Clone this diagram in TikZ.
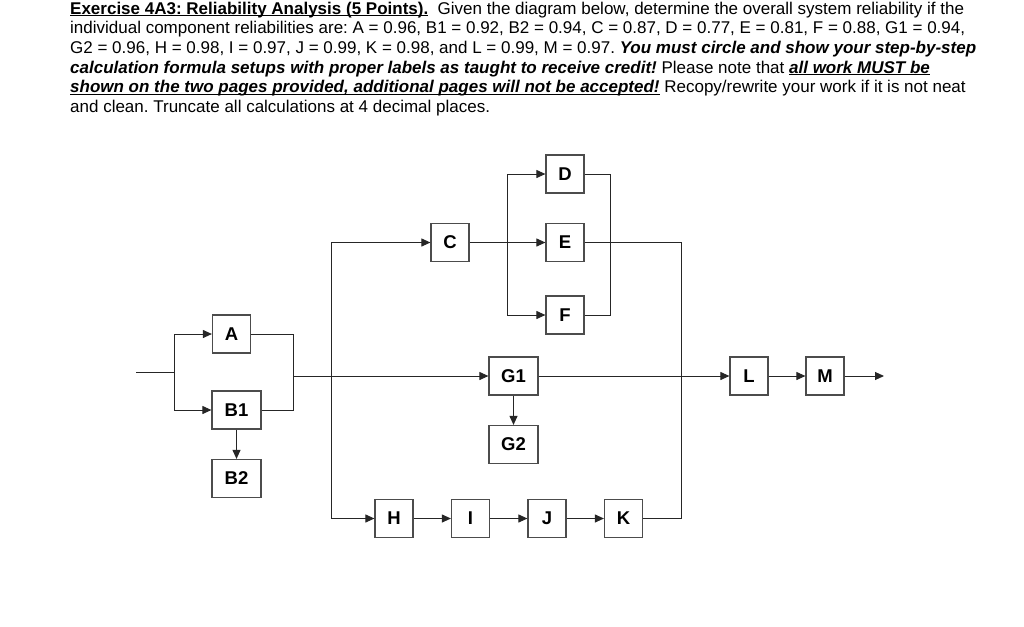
\documentclass[tikz,border=0pt]{standalone}
\usepackage{fontspec}
\setmainfont{Liberation Sans}
\usetikzlibrary{arrows.meta}
\newcommand{\myul}[2][-2.4pt]{\setbox0\hbox{#2}\rlap{\rule[#1]{\wd0}{1.1pt}}\box0\relax}
\newcommand{\bi}[1]{\textbf{\textit{#1}}}
\frenchspacing
\begin{document}
\begin{tikzpicture}[x=1pt,y=-1pt,
  blk/.style={draw=black!70, line width=1.2pt, fill=white, minimum width=38pt, minimum height=38pt, inner sep=0pt, font=\fontsize{18.5}{18.5}\selectfont\bfseries},
  wblk/.style={blk, minimum width=49pt},
  ln/.style={draw=black!85, line width=1pt},
  arr/.style={ln, -{Triangle[length=9pt,width=8pt]}},
  txt/.style={anchor=base west, inner sep=0pt, font=\fontsize{17}{19.5}\selectfont}]
\useasboundingbox (0,0) rectangle (1024,626);
% header text
\node[txt] (t1) at (70,14.5) {\myul[-2pt]{\textbf{Exercise 4A3: Reliability Analysis (5 Points).}}\ \ Given the diagram below, determine the overall system reliability if the};
\node[txt] (t2) at (70,34) {individual component reliabilities are: A = 0.96, B1 = 0.92, B2 = 0.94, C = 0.87, D = 0.77, E = 0.81, F = 0.88, G1 = 0.94,};
\node[txt] (t3) at (70,53.5) {G2 = 0.96, H = 0.98, I = 0.97, J = 0.99, K = 0.98, and L = 0.99, M = 0.97. \bi{You must circle and show your step-by-step}};
\node[txt] (t4) at (70,73) {\bi{calculation formula setups with proper labels as taught to receive credit!} Please note that \myul{\bi{all work MUST be}}};
\node[txt] (t5) at (70,92.5) {\myul{\bi{shown on the two pages provided, additional pages will not be accepted!}} Recopy/rewrite your work if it is not neat};
\node[txt] (t6) at (70,112) {and clean. Truncate all calculations at 4 decimal places.};
% blocks
\node[blk]  (A)  at (231.5,334) {A};
\node[wblk] (B1) at (236.5,410) {B1};
\node[wblk] (B2) at (236.5,478.5) {B2};
\node[blk]  (C)  at (450,242.5) {C};
\node[blk]  (D)  at (565,174) {D};
\node[blk]  (E)  at (565,242.5) {E};
\node[blk]  (F)  at (565,315) {F};
\node[wblk] (G1) at (513.5,376) {G1};
\node[wblk] (G2) at (513.5,444.5) {G2};
\node[blk]  (H)  at (394,518.5) {H};
\node[blk]  (I)  at (470.5,518.5) {I};
\node[blk]  (J)  at (547,518.5) {J};
\node[blk]  (K)  at (623.5,518.5) {K};
\node[blk]  (L)  at (749,376) {L};
\node[blk]  (M)  at (825,376) {M};
% junctions
\coordinate (in) at (136,372);
\coordinate (j1) at (174,372);
\coordinate (j2) at (293,376);
\coordinate (j3) at (331,376);
\coordinate (j4) at (507,242.5);
\coordinate (j5) at (610,242.5);
\coordinate (j6) at (681,376);
\coordinate (out) at (884,376);
% connectors
\draw[ln] (in) -- (j1);
\draw[arr] (j1) |- (A.west);
\draw[arr] (j1) |- (B1.west);
\draw[arr] (B1) -- (B2);
\draw[ln] (A.east) -| (j2);
\draw[ln] (B1.east) -| (j2);
\draw[arr] (j2) -- (G1.west);
\draw[arr] (j3) |- (C.west);
\draw[arr] (j3) |- (H.west);
\draw[arr] (C.east) -- (E.west);
\draw[arr] (j4) |- (D.west);
\draw[arr] (j4) |- (F.west);
\draw[ln] (D.east) -| (j5);
\draw[ln] (F.east) -| (j5);
\draw[ln] (E.east) -| (j6);
\draw[ln] (K.east) -| (j6);
\draw[arr] (G1) -- (G2);
\draw[arr] (G1.east) -- (L.west);
\draw[arr] (L) -- (M);
\draw[arr] (M.east) -- (out);
\draw[arr] (H) -- (I);
\draw[arr] (I) -- (J);
\draw[arr] (J) -- (K);
\end{tikzpicture}
\end{document}
